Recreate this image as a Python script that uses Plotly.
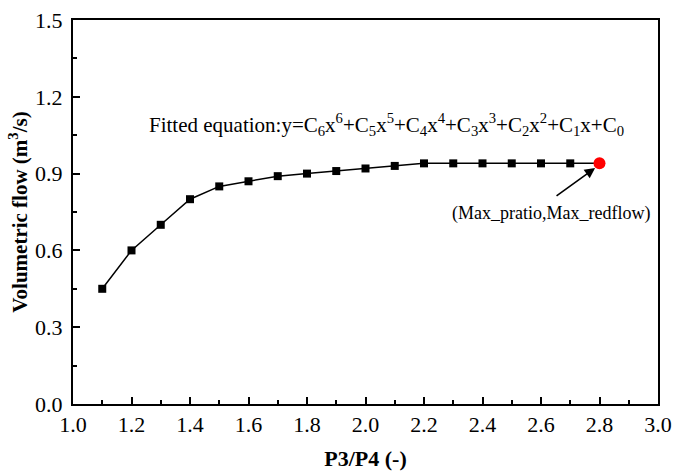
import plotly.graph_objects as go

x_vals = [1.1, 1.2, 1.3, 1.4, 1.5, 1.6, 1.7, 1.8, 1.9, 2.0, 2.1, 2.2, 2.3, 2.4, 2.5, 2.6, 2.7, 2.8]
y_vals = [0.45, 0.60, 0.70, 0.80, 0.85, 0.87, 0.89, 0.90, 0.91, 0.92, 0.93, 0.94, 0.94, 0.94, 0.94, 0.94, 0.94, 0.94]
max_x = [2.8]
max_y = [0.94]

font = "Liberation Serif, Times New Roman, serif"

fig = go.Figure()
fig.add_trace(go.Scatter(x=x_vals, y=y_vals, mode="lines",
                         line=dict(color="black", width=1.5), showlegend=False))
fig.add_trace(go.Scatter(x=x_vals[:-1], y=y_vals[:-1], mode="markers",
                         marker=dict(symbol="square", size=8, color="black"), showlegend=False))
fig.add_trace(go.Scatter(x=max_x, y=max_y, mode="markers",
                         marker=dict(symbol="circle", size=12, color="#ff0000"), showlegend=False))

fig.add_annotation(x=2.073, y=1.09, xref="x", yref="y",
                   text="Fitted equation:y=C<sub>6</sub>x<sup>6</sup>+C<sub>5</sub>x<sup>5</sup>+C<sub>4</sub>x<sup>4</sup>+C<sub>3</sub>x<sup>3</sup>+C<sub>2</sub>x<sup>2</sup>+C<sub>1</sub>x+C<sub>0</sub>",
                   showarrow=False, font=dict(family=font, size=21, color="black"))
fig.add_annotation(x=2.785, y=0.922, ax=2.648, ay=0.809, xref="x", yref="y", axref="x", ayref="y",
                   text="", showarrow=True, arrowhead=2, arrowsize=1.3, arrowwidth=1.6, arrowcolor="black")
fig.add_annotation(x=2.634, y=0.746, xref="x", yref="y", text="(Max_pratio,Max_redflow)",
                   showarrow=False, font=dict(family=font, size=18, color="black"))

fig.update_layout(
    width=673, height=472,
    margin=dict(l=73, r=15, t=20, b=68, autoexpand=False),
    plot_bgcolor="white", paper_bgcolor="white",
    font=dict(family=font, color="black", size=22),
    xaxis=dict(range=[1.0, 3.0], tickmode="linear", tick0=1.0, dtick=0.2, tickformat=".1f",
               automargin=False,
               ticks="inside", ticklen=7, tickwidth=1.5, tickcolor="black",
               tickfont=dict(family=font, size=22),
               minor=dict(ticks="inside", ticklen=4, tickwidth=1.5, tickcolor="black", dtick=0.1),
               showline=True, linecolor="black", linewidth=2, mirror=True, showgrid=False, zeroline=False,
               title=dict(text="<b>P3/P4 (-)</b>", font=dict(family=font, size=22), standoff=14)),
    yaxis=dict(range=[0.0, 1.5], tickmode="linear", tick0=0.0, dtick=0.3, tickformat=".1f",
               automargin=False,
               ticks="inside", ticklen=7, tickwidth=1.5, tickcolor="black",
               tickfont=dict(family=font, size=22), ticklabelstandoff=4,
               minor=dict(ticks="inside", ticklen=4, tickwidth=1.5, tickcolor="black", dtick=0.15),
               showline=True, linecolor="black", linewidth=2, mirror=True, showgrid=False, zeroline=False,
               title=dict(text="<b>Volumetric flow (m<sup>3</sup>/s)</b>", font=dict(family=font, size=21), standoff=2)),
)

fig.write_html("out.html")
